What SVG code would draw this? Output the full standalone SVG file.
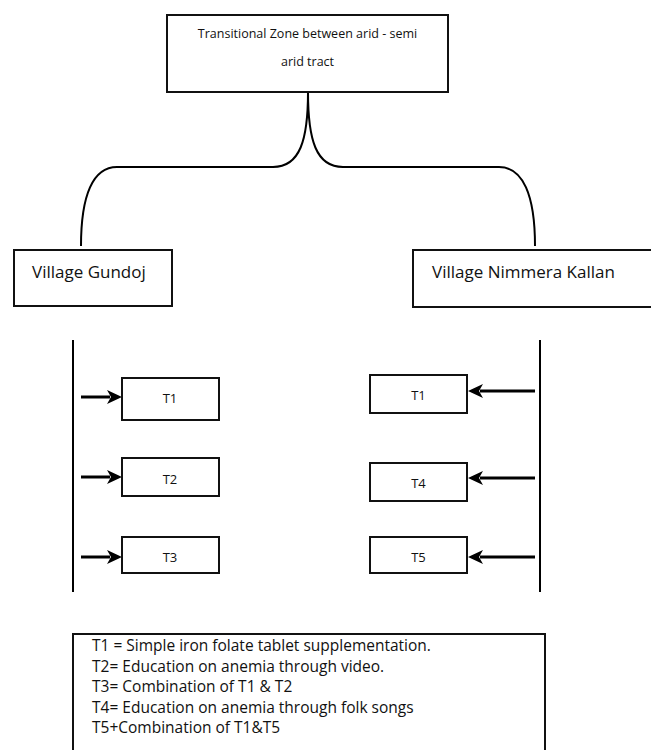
<svg xmlns="http://www.w3.org/2000/svg" width="651" height="750" viewBox="0 0 651 750">
<style>
.box{fill:#fff;stroke:#111;stroke-width:2}
.ln{fill:none;stroke:#000;stroke-width:2}
.ar{fill:none;stroke:#000;stroke-width:3}
text{font-family:"Open Sans","Liberation Sans",sans-serif;fill:#111}
.t{font-size:12.5px;text-anchor:middle}
.v{font-size:17px}
.s{font-size:13px;text-anchor:middle}
.l{font-size:15.5px}
</style>
<defs>
<marker id="ah" markerUnits="userSpaceOnUse" markerWidth="16" markerHeight="14" refX="3" refY="7" orient="auto">
<path d="M0,0 L15,7 L0,14 L4,7 z" fill="#000"/>
</marker>
</defs>
<rect width="651" height="750" fill="#fff"/>
<g id="connectors">
<path class="ln" d="M308,92 C308,140 300,167 273,167 L117,167 C93,167 81,195 81,246"/>
<path class="ln" d="M308,92 C308,140 316,167 343,167 L499,167 C523,167 535,195 535,246"/>
<line class="ln" x1="73" y1="340" x2="73" y2="592"/>
<line class="ln" x1="540" y1="340" x2="540" y2="592"/>
<line class="ar" x1="81" y1="397" x2="110" y2="397" marker-end="url(#ah)"/>
<line class="ar" x1="81" y1="477" x2="110" y2="477" marker-end="url(#ah)"/>
<line class="ar" x1="81" y1="557" x2="110" y2="557" marker-end="url(#ah)"/>
<line class="ar" x1="535" y1="391" x2="480" y2="391" marker-end="url(#ah)"/>
<line class="ar" x1="535" y1="478" x2="480" y2="478" marker-end="url(#ah)"/>
<line class="ar" x1="535" y1="557" x2="480" y2="557" marker-end="url(#ah)"/>
</g>
<g id="top">
<rect class="box" x="167" y="15" width="281" height="77"/>
<text class="t" x="307.5" y="38">Transitional Zone between arid - semi</text>
<text class="t" x="307.5" y="66">arid tract</text>
</g>
<g id="gundoj">
<rect class="box" x="14" y="250" width="158" height="56"/>
<text class="v" x="32" y="278">Village Gundoj</text>
</g>
<g id="nimmera">
<rect class="box" x="413" y="250" width="245" height="57"/>
<text class="v" x="432" y="278">Village Nimmera Kallan</text>
</g>
<g id="g-t1">
<rect class="box" x="122" y="378" width="97" height="42"/>
<text class="s" x="170" y="403">T1</text>
</g>
<g id="g-t2">
<rect class="box" x="122" y="458" width="97" height="38"/>
<text class="s" x="170" y="484">T2</text>
</g>
<g id="g-t3">
<rect class="box" x="122" y="537" width="97" height="36"/>
<text class="s" x="170" y="562">T3</text>
</g>
<g id="n-t1">
<rect class="box" x="370" y="375" width="97" height="38"/>
<text class="s" x="418.5" y="400">T1</text>
</g>
<g id="n-t4">
<rect class="box" x="370" y="463" width="97" height="38"/>
<text class="s" x="418.5" y="488">T4</text>
</g>
<g id="n-t5">
<rect class="box" x="370" y="537" width="97" height="36"/>
<text class="s" x="418.5" y="562">T5</text>
</g>
<g id="legend">
<rect class="box" x="73" y="634" width="472" height="120"/>
<text class="l" x="92" y="651">T1 = Simple iron folate tablet supplementation.</text>
<text class="l" x="92" y="672">T2= Education on anemia through video.</text>
<text class="l" x="92" y="692">T3= Combination of T1 &amp; T2</text>
<text class="l" x="92" y="713">T4= Education on anemia through folk songs</text>
<text class="l" x="92" y="733">T5+Combination of T1&amp;T5</text>
</g>
</svg>
